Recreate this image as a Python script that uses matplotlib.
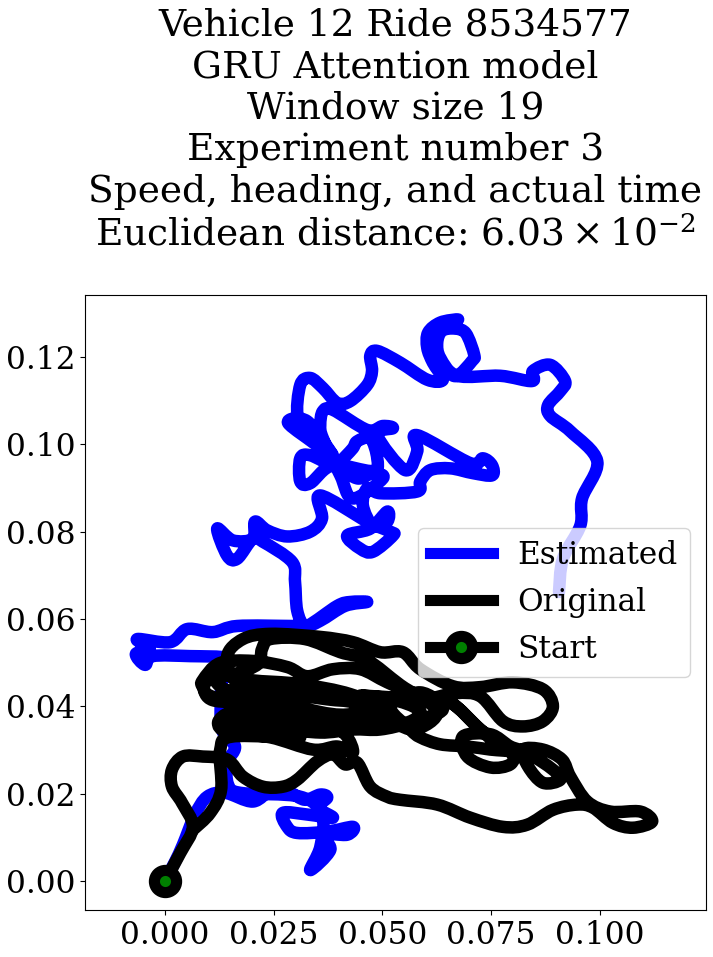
#!/usr/bin/env python3
"""Estimated vs original trajectory for one ride."""
import matplotlib
matplotlib.use("Agg")
import matplotlib.pyplot as plt
from matplotlib.lines import Line2D
from matplotlib.patches import PathPatch
from matplotlib.path import Path

est_x = [0, .0023, .0041, .0069, .0097, .0138, .0202, .0246, .0288, .0322, .0357, .0373, .0352, .0386,
         .0329, .0271, .0281, .0304, .0373, .0432, .0419, .0363, .0380, .0334, .0357, .0361, .0311,
         .0173, .0145, .0143, .0161, .0131, .0129, .0138, .0143, .0058, -.0028, -.0046, -.0067, -.0035,
         -.0064, .0012, .0051, .0110, .0166, .0294, .0327, .0396, .0426, .0465, .0414, .0357, .0322,
         .0304, .0299, .0292, .0225, .0202, .0166, .0143, .0120, .0156, .0202, .0207, .0235, .0281,
         .0334, .0361, .0357, .0465, .0518, .0524, .0478, .0449, .0419, .0472, .0511, .0511, .0478,
         .0455, .0465, .0495, .0580, .0587, .0610, .0656, .0708, .0752, .0752, .0731, .0702, .0580,
         .0580, .0552, .0488, .0524, .0501, .0465, .0386, .0363, .0357, .0363, .0403, .0432, .0501,
         .0478, .0442, .0403, .0432, .0442, .0472, .0488, .0478, .0386, .0334, .0311, .0311, .0334,
         .0386, .0357, .0283, .0327, .0386, .0345, .0306, .0311, .0334, .0363, .0396, .0426, .0465,
         .0476, .0472, .0488, .0541, .0603, .0639, .0616, .0603, .0605, .0633, .0674, .0644, .0610,
         .0614, .0649, .0672, .0706, .0711, .0692, .0667, .0637, .0626, .0633, .0672, .0771, .0844,
         .0846, .0886, .0920, .0909, .0881, .0886, .0932, .0994, .0959, .0955, .0915, .0906]
est_y = [0, .0044, .0083, .0152, .0193, .0202, .0182, .0209, .0202, .0186, .0198, .0191, .0168, .0145,
         .0152, .0156, .0124, .0110, .0113, .0124, .0106, .0106, .0071, .0025, .0078, .0152, .0193,
         .0202, .0221, .0271, .0308, .0347, .0439, .0490, .0511, .0515, .0515, .0495, .0520, .0531,
         .0554, .0547, .0577, .0570, .0584, .0584, .0584, .0630, .0639, .0639, .0630, .0596, .0584,
         .0619, .0685, .0731, .0777, .0784, .0738, .0745, .0807, .0780, .0784, .0823, .0803, .0789,
         .0800, .0830, .0883, .0823, .0800, .0791, .0754, .0761, .0791, .0807, .0846, .0823, .0814,
         .0860, .0899, .0888, .0892, .0915, .0941, .0945, .0934, .0929, .0952, .0968, .0957, .1021,
         .0984, .0941, .1021, .1037, .1042, .1033, .1079, .1076, .1044, .1014, .0929, .0876, .0922,
         .0934, .0922, .0952, .0991, .1007, .1014, .0968, .0939, .0952, .0911, .0915, .0968, .0975,
         .0952, .0991, .1049, .1053, .0975, .1026, .1060, .1136, .1152, .1129, .1095, .1099, .1136,
         .1168, .1203, .1214, .1187, .1148, .1148, .1187, .1221, .1256, .1279, .1286, .1274, .1244,
         .1198, .1168, .1157, .1191, .1205, .1254, .1265, .1260, .1233, .1198, .1157, .1157, .1145,
         .1168, .1182, .1145, .1122, .1090, .1065, .1030, .0961, .0876, .0814, .0738, .0662]

orig_x = [0, .0035, .0064, .0039, .0016, .0016, .0041, .0087, .0143, .0179, .0225, .0271, .0304, .0350,
          .0386, .0414, .0442, .0472, .0511, .0541, .0626, .0702, .0777, .0833, .0892, .0948, .0984,
          .1030, .1076, .1120, .1093, .1024, .0971, .0932, .0913, .0869, .0823, .0835, .0869, .0909,
          .0892, .0833, .0794, .0748, .0685, .0695, .0748, .0794, .0800, .0748, .0695, .0633, .0587,
          .0564, .0518, .0587, .0639, .0564, .0495, .0432, .0357, .0265, .0202, .0150, .0122, .0145,
          .0242, .0340, .0396, .0432, .0414, .0361, .0265, .0202, .0110, .0087, .0087, .0126, .0202,
          .0281, .0327, .0386, .0449, .0511, .0587, .0656, .0725, .0764, .0800, .0725, .0656, .0587,
          .0450, .0587, .0667, .0725, .0777, .0823, .0869, .0892, .0869, .0800, .0725, .0662, .0587,
          .0547, .0495, .0432, .0357, .0242, .0179, .0143, .0166, .0265, .0373, .0432, .0495, .0570,
          .0626, .0541, .0465, .0403, .0322, .0242, .0223, .0214, .0161, .0099, .0097, .0173, .0311,
          .0403, .0495, .0426, .0311, .0196, .0115, .0138, .0230, .0334, .0426, .0506, .0587, .0541,
          .0426, .0311, .0196, .0138, .0311, .0156, .0127, .0129, .0104, .0064]
orig_y = [0, .0064, .0124, .0179, .0216, .0255, .0285, .0285, .0278, .0239, .0216, .0216, .0232, .0274,
          .0290, .0267, .0271, .0216, .0193, .0186, .0175, .0145, .0124, .0129, .0163, .0175, .0168,
          .0133, .0122, .0136, .0159, .0159, .0182, .0239, .0278, .0301, .0301, .0262, .0225, .0232,
          .0255, .0294, .0308, .0336, .0331, .0285, .0260, .0267, .0294, .0301, .0308, .0313, .0329,
          .0347, .0400, .0432, .0393, .0363, .0347, .0347, .0340, .0352, .0382, .0386, .0363, .0340,
          .0329, .0301, .0308, .0294, .0336, .0366, .0398, .0408, .0414, .0444, .0460, .0499, .0504,
          .0490, .0469, .0485, .0485, .0455, .0423, .0409, .0347, .0313, .0294, .0347, .0409, .0416,
          .0425, .0416, .0430, .0423, .0366, .0354, .0366, .0400, .0439, .0455, .0444, .0446, .0485,
          .0524, .0524, .0547, .0559, .0566, .0554, .0515, .0455, .0432, .0416, .0409, .0382, .0347,
          .0389, .0449, .0506, .0524, .0554, .0554, .0531, .0497, .0474, .0460, .0428, .0405, .0366,
          .0370, .0392, .0428, .0451, .0460, .0474, .0439, .0428, .0392, .0382, .0416, .0389, .0359,
          .0366, .0352, .0359, .0354, .0329, .0331, .0301, .0209, .0156, .0117]

start_x = [0]
start_y = [0]

title = ("Vehicle 12 Ride 8534577\nGRU Attention model\nWindow size 19\n"
         "Experiment number 3\nSpeed, heading, and actual time\n"
         "Euclidean distance: $6.03 \\times 10^{-2}$")


def smooth_path(xs, ys):
    pts = list(zip(xs, ys))
    verts, codes = [pts[0]], [Path.MOVETO]
    for i in range(len(pts) - 1):
        p0 = pts[max(i - 1, 0)]
        p1, p2 = pts[i], pts[i + 1]
        p3 = pts[min(i + 2, len(pts) - 1)]
        verts += [(p1[0] + (p2[0] - p0[0]) / 6, p1[1] + (p2[1] - p0[1]) / 6),
                  (p2[0] - (p3[0] - p1[0]) / 6, p2[1] - (p3[1] - p1[1]) / 6),
                  p2]
        codes += [Path.CURVE4] * 3
    return Path(verts, codes)


plt.rcParams.update({"font.family": "DejaVu Serif", "mathtext.fontset": "dejavuserif", "font.size": 22.5})

fig = plt.figure(figsize=(7.13, 9.57), dpi=100)
ax = fig.add_axes([85 / 713, 1 - 910 / 957, 621 / 713, 615 / 957])
for xs, ys, col in [(est_x, est_y, "blue"), (orig_x, orig_y, "black")]:
    ax.add_patch(PathPatch(smooth_path(xs, ys), fill=False, edgecolor=col, lw=9, capstyle="round", joinstyle="round"))
ax.plot(start_x, start_y, "-o", color="black", lw=8, ms=16, mew=8, mfc="green", mec="black")
handles = [Line2D([], [], color="blue", lw=8),
           Line2D([], [], color="black", lw=8),
           Line2D([], [], color="black", lw=8, marker="o", ms=16, mew=8, mfc="green", mec="black")]
ax.set_xlim(-0.0184, 0.1244)
ax.set_ylim(-0.00664, 0.1342)
ax.set_xticks([0, .025, .05, .075, .1])
ax.set_yticks([0, .02, .04, .06, .08, .10, .12])
ax.set_xticklabels(["0.000", "0.025", "0.050", "0.075", "0.100"])
ax.set_yticklabels(["0.00", "0.02", "0.04", "0.06", "0.08", "0.10", "0.12"])
ax.legend(handles, ["Estimated", "Original", "Start"], loc="center right", fontsize=22.5)
ax.set_title(title, fontsize=27, pad=36)
fig.savefig("out.png", dpi=100)
